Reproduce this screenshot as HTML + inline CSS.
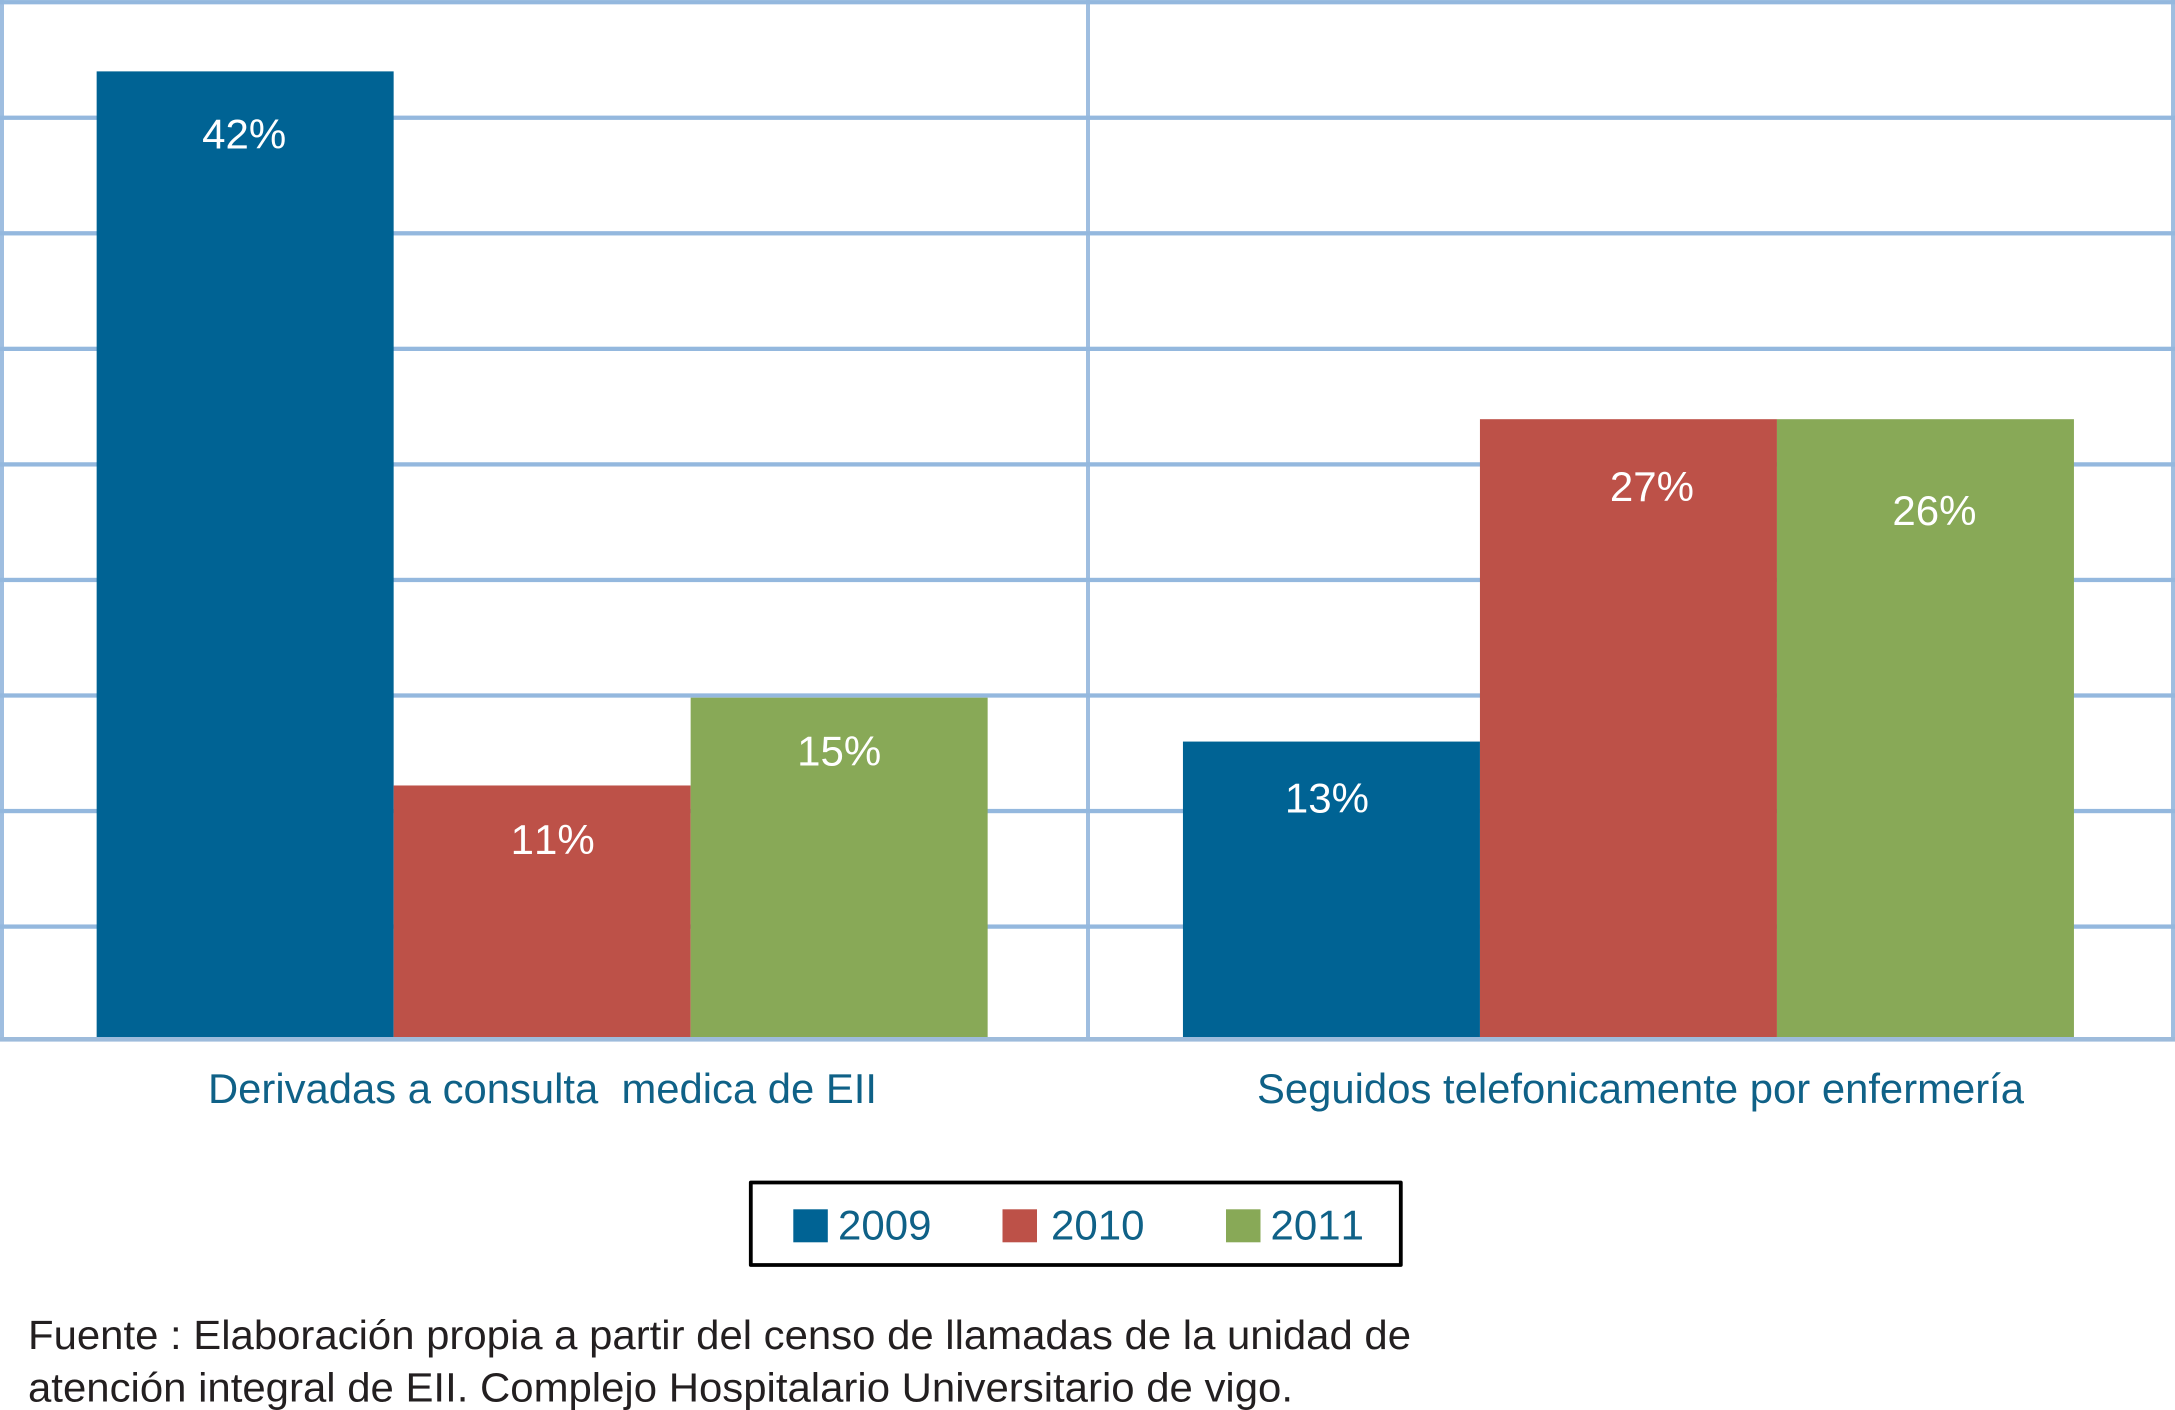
<!DOCTYPE html>
<html lang="es">
<head>
<meta charset="utf-8">
<title>Llamadas por año</title>
<style>
html,body{margin:0;padding:0;background:#fff;}
svg{display:block;}
text{font-family:"Liberation Sans",sans-serif;font-kerning:none;}
</style>
</head>
<body>
<svg id="chart" xmlns="http://www.w3.org/2000/svg" width="2175" height="1410" viewBox="0 0 2175 1410">
  <rect x="0" y="0" width="2175" height="1410" fill="#ffffff"/>
  <g id="grid"></g>
  <g id="bars"></g>
  <g id="labels"></g>
  <g id="cats"></g>
  <g id="legend"></g>
  <g fill="#231f20" font-size="41">
    <text x="28" y="1349" textLength="1383" lengthAdjust="spacingAndGlyphs">Fuente : Elaboración propia a partir del censo de llamadas de la unidad de</text>
    <text x="28" y="1401.5" textLength="1265" lengthAdjust="spacingAndGlyphs">atención integral de EII. Complejo Hospitalario Universitario de vigo.</text>
  </g>
</svg>
<script>
const categories = ["Derivadas a consulta  medica de EII", "Seguidos telefonicamente por enfermería"];
const seriesNames = ["2009", "2010", "2011"];
const series2009 = [42, 13];
const series2010 = [11.1, 26.95];
const series2011 = [14.9, 26.95];
const printed2009 = ["42%", "13%"];
const printed2010 = ["11%", "27%"];
const printed2011 = ["15%", "26%"];
const gridTicks = [5, 10, 15, 20, 25, 30, 35, 40, 45];

const NS = "http://www.w3.org/2000/svg";
const colors = ["#006394", "#bd5148", "#88a957"];
const gridColor = "#94b8de";
const verticalColor = "#9fbee0";
const axisColor = "#9dbbdb";
const textColor = "#0f6187";
const allSeries = [series2009, series2010, series2011];
const allPrinted = [printed2009, printed2010, printed2011];

// axis functions
const plotBottom = 1037;
function yScale(v) { return 1042 - v * 23.11; }
const bandLeft = -1, bandWidth = 1086.3, barWidth = 297;
function xBand(c) { return bandLeft + bandWidth * c + bandWidth / 2; }
function xBar(c, s) { return xBand(c) + (s - seriesNames.length / 2) * barWidth; }

// hand-placed label nudges from the bar's centre/top in the source figure
const labelNudgeX = [[-1, -4.5], [10.5, 23.5], [0, 9]];
const labelNudgeY = [[77, 71], [68.5, 82], [68, 106]];

function make(tag, parent, attrs) {
  const el = document.createElementNS(NS, tag);
  for (const k in attrs) el.setAttribute(k, attrs[k]);
  parent.appendChild(el);
  return el;
}

const grid = document.getElementById("grid");
[[0, 4], [1086, 4], [2171, 4]].forEach(function (p) {
  const v = make("rect", grid, { x: p[0], y: 0, width: p[1], height: 1041, fill: verticalColor });
  
  
});
gridTicks.forEach(function (t) {
  const ln = make("rect", grid, { x: 0, y: yScale(t) - 2, width: 2175, height: 4.3, fill: gridColor });
  
  
});
const axisLine = make("rect", grid, { x: 0, y: plotBottom, width: 2175, height: 4.6, fill: axisColor });



const barsG = document.getElementById("bars");
const labelsG = document.getElementById("labels");
categories.forEach(function (cat, c) {
  allSeries.forEach(function (vals, s) {
    const top = yScale(vals[c]);
    const r = make("rect", barsG, { x: xBar(c, s), y: top, width: barWidth, height: plotBottom - top, fill: colors[s] });
    
    
    const t = make("text", labelsG, {
      x: xBar(c, s) + barWidth / 2 + labelNudgeX[s][c],
      y: top + labelNudgeY[s][c],
      fill: "#ffffff", "font-size": 42, "text-anchor": "middle"
    });
    
    
    t.textContent = allPrinted[s][c];
  });
});

const catX = [208, 1257];
const catW = [669, 767];
const catsG = document.getElementById("cats");
categories.forEach(function (cat, c) {
  const t = make("text", catsG, { x: catX[c], y: 1103, fill: textColor, "font-size": 41.5, textLength: catW[c], lengthAdjust: "spacingAndGlyphs" });
  
  
  t.setAttribute('xml:space', 'preserve');
  t.style.whiteSpace = "pre";
  t.textContent = cat;
});

const legendG = document.getElementById("legend");
const box = make("rect", legendG, { x: 750.8, y: 1182.5, width: 650, height: 82.5, fill: "#ffffff", stroke: "#000000", "stroke-width": 3.8, "stroke-linejoin": "round" });


const swatchX = [793.3, 1002.5, 1226];
const legendTextX = [838, 1051, 1270.5];
seriesNames.forEach(function (name, s) {
  const sw = make("rect", legendG, { x: swatchX[s], y: 1209.3, width: 34.5, height: 33, fill: colors[s] });
  
  
  const t = make("text", legendG, { x: legendTextX[s], y: 1239.5, fill: textColor, "font-size": 42 });
  
  
  t.textContent = name;
});
</script>
</body>
</html>
